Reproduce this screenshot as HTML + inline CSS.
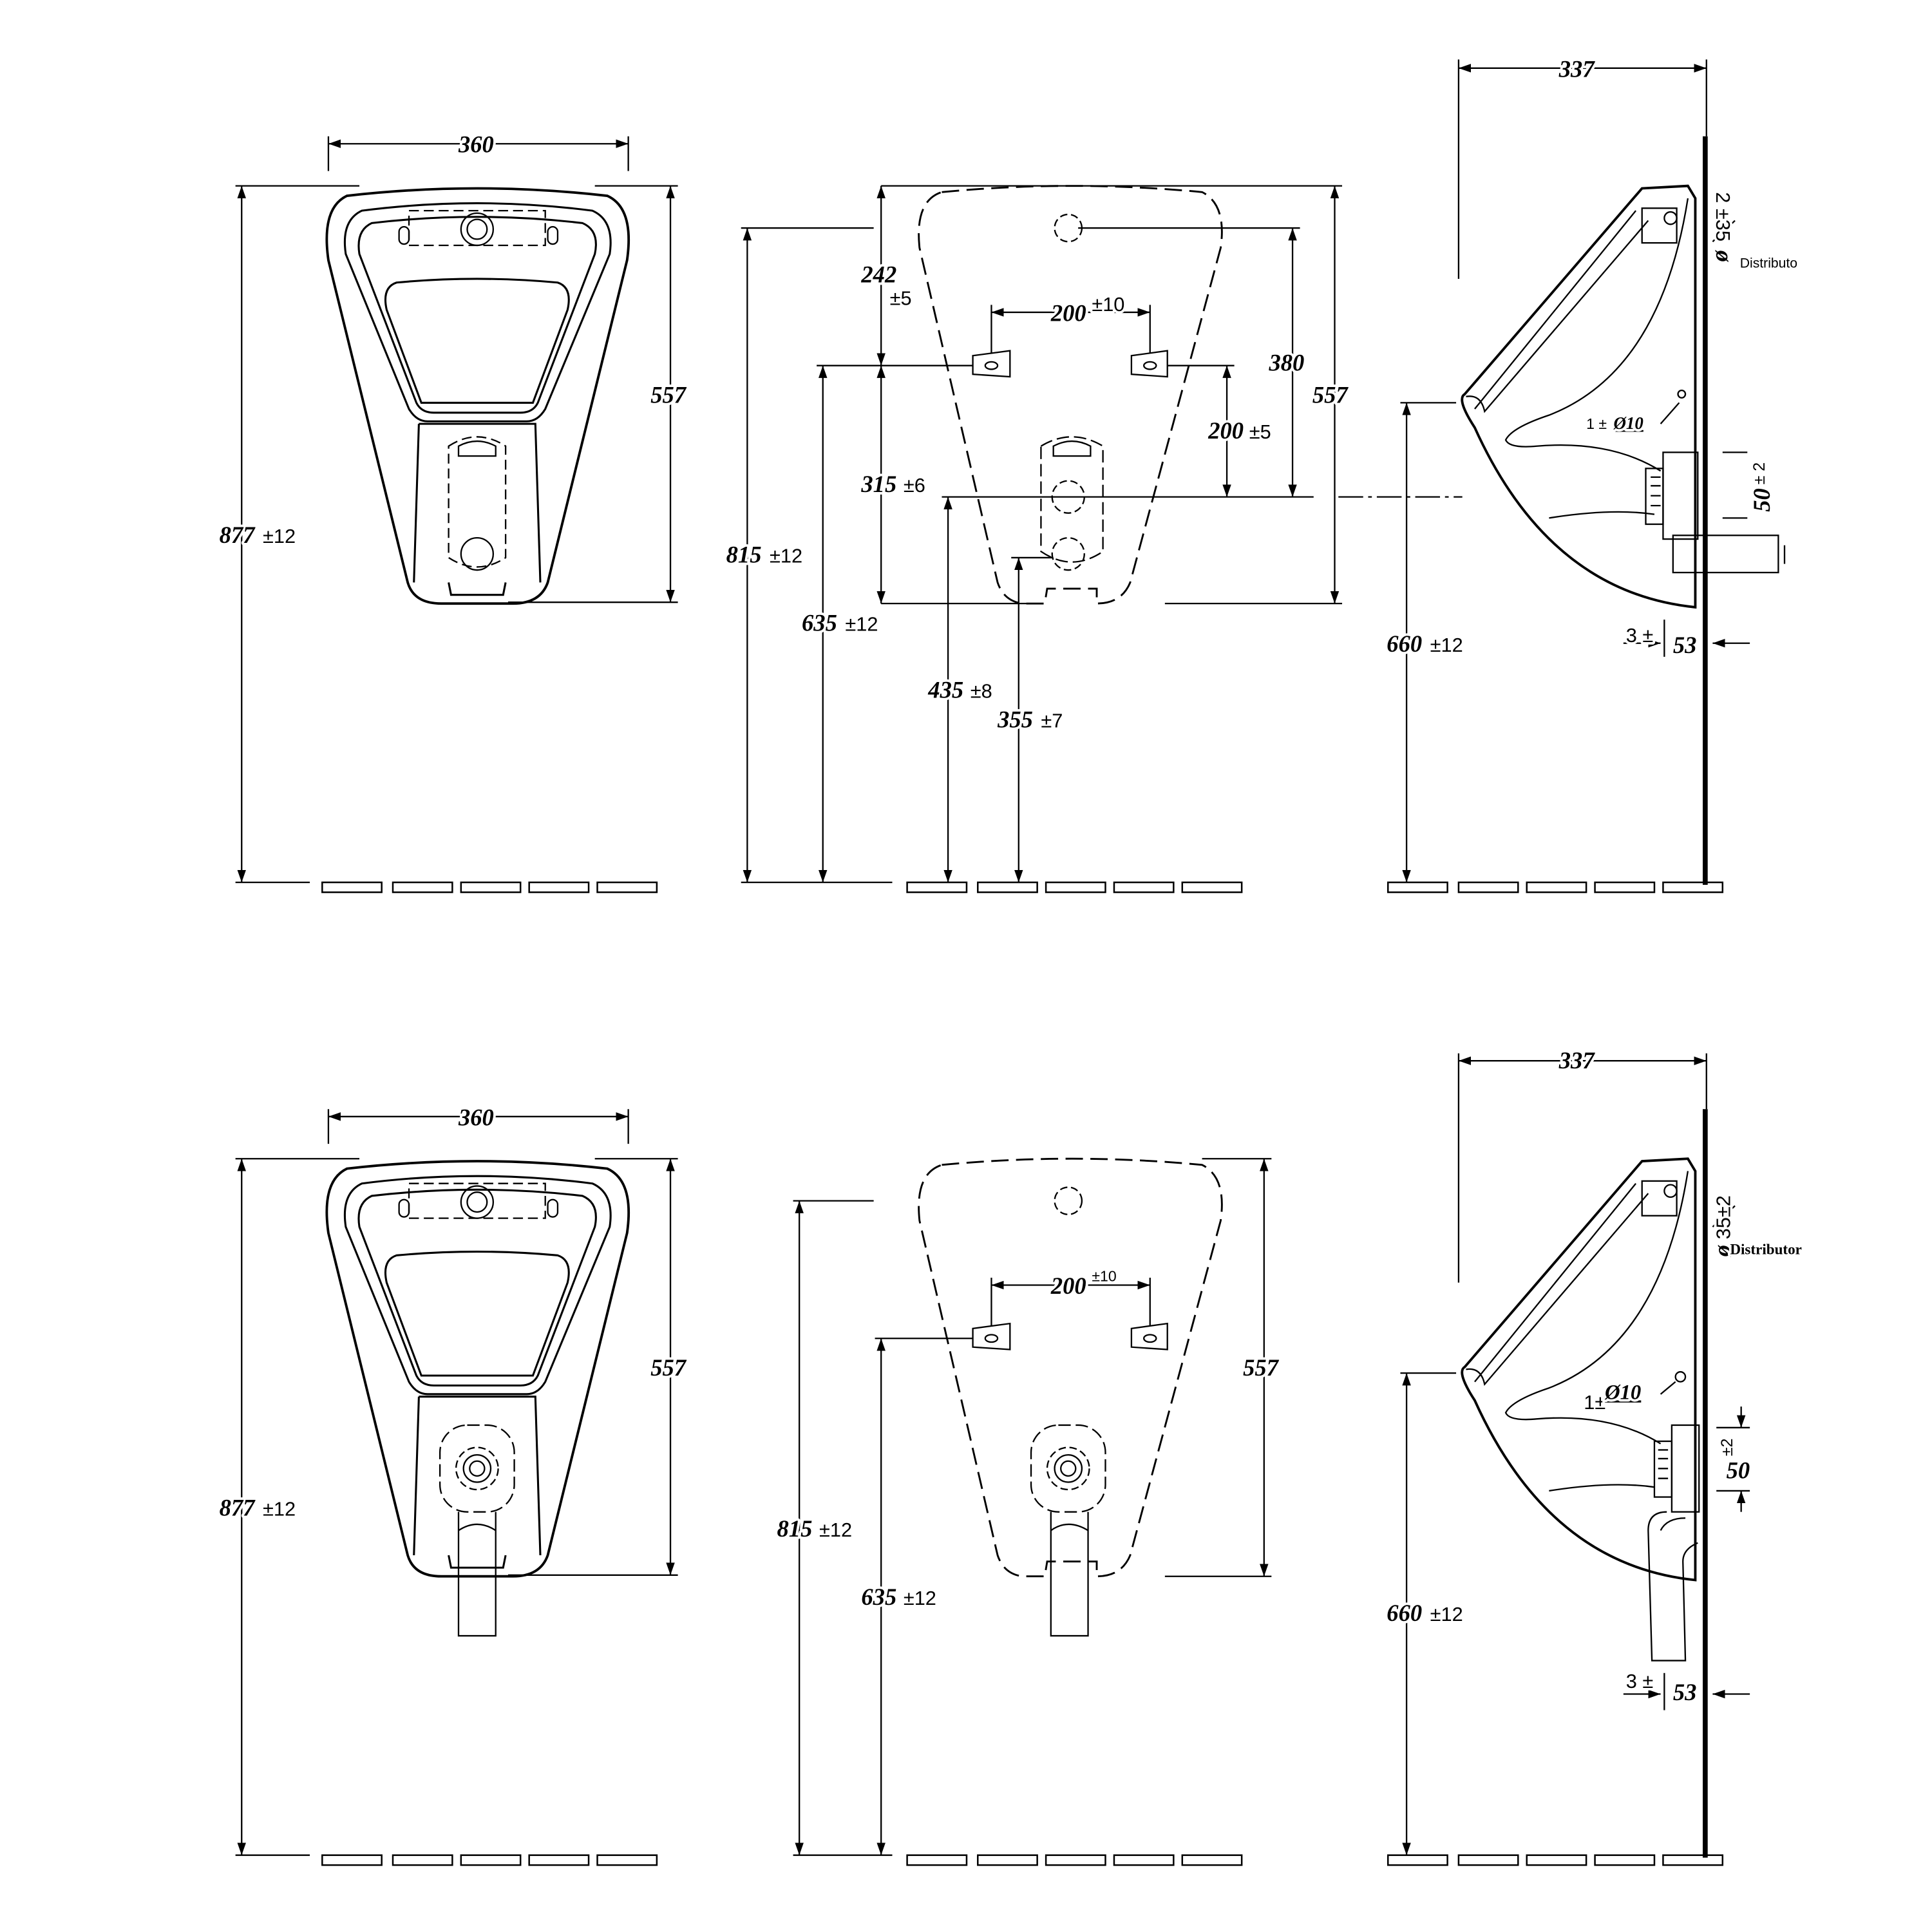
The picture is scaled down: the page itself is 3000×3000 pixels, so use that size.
<!DOCTYPE html>
<html><head><meta charset="utf-8"><style>
html,body{margin:0;padding:0;background:#fff;}
svg{display:block;}
text{paint-order:stroke;stroke:#fff;stroke-width:4px;stroke-linejoin:round;fill:#000;}
.n{font-family:"Liberation Serif",serif;font-style:italic;font-weight:bold;font-size:19px;}
.s{font-family:"Liberation Sans",sans-serif;font-size:16px;}
.t{font-family:"Liberation Sans",sans-serif;font-size:11px;}
</style></head><body>
<svg width="3000" height="3000" viewBox="0 0 1559 1559" xmlns="http://www.w3.org/2000/svg">
<defs>
<marker id="a" viewBox="0 0 10 10" refX="10" refY="5" markerWidth="10" markerHeight="10" markerUnits="userSpaceOnUse" orient="auto-start-reverse"><path d="M0,1.5 L10,5 L0,8.5 Z" fill="#000"/></marker>
<g id="tiles" fill="none" stroke="#000" stroke-width="1.3">
<rect x="0" y="0" width="48" height="8"/><rect x="57" y="0" width="48" height="8"/><rect x="112" y="0" width="48" height="8"/><rect x="167" y="0" width="48" height="8"/><rect x="222" y="0" width="48" height="8"/>
</g>
<g id="front" fill="none" stroke="#000" stroke-width="1.6">
<path d="M280 158 Q385 146 490 158 Q512 168 506 210 L442 470 Q436 487 414 487 L356 487 Q334 487 329 470 L265 210 Q259 168 280 158 Z" stroke-width="2"/>
<path d="M292 170 Q385 158 478 170 Q496 178 492 205 L440 330 Q434 340 425 340 L345 340 Q336 340 330 330 L279 205 Q275 178 292 170 Z"/>
<path d="M300 180 Q385 170 470 180 Q484 186 480 205 L434 325 Q430 333 420 333 L350 333 Q340 333 336 325 L290 205 Q287 186 300 180 Z"/>
<path d="M320 228 Q385 222 450 228 Q462 232 458 250 L430 325 L340 325 L312 250 Q308 232 320 228 Z"/>
<path d="M338 342 L432 342 L436 470 M338 342 L334 470"/>
<path d="M362 470 L364 480 L406 480 L408 470"/>
</g>
</defs>

<!-- ============ TOP ROW ============ -->
<g fill="none" stroke="#000" stroke-width="1.2">
<use href="#front"/>
<path d="M330 170 L440 170 L440 198 L330 198 Z" stroke-dasharray="8,4"/>
<rect x="322" y="183" width="8" height="14" rx="4"/><rect x="442" y="183" width="8" height="14" rx="4"/>
<circle cx="385" cy="185" r="13"/><circle cx="385" cy="185" r="8"/>
<path d="M362 360 Q385 345 408 360 L408 450 Q385 465 362 450 Z" stroke-dasharray="8,4"/>
<path d="M370 360 Q385 352 400 360 L400 368 L370 368 Z"/>
<circle cx="385" cy="447" r="13"/>
<line x1="265" y1="110" x2="265" y2="138"/><line x1="507" y1="110" x2="507" y2="138"/>
<line x1="265" y1="116" x2="507" y2="116" marker-start="url(#a)" marker-end="url(#a)"/>
<line x1="190" y1="150" x2="290" y2="150"/><line x1="190" y1="712" x2="250" y2="712"/>
<line x1="195" y1="150" x2="195" y2="712" marker-start="url(#a)" marker-end="url(#a)"/>
<line x1="480" y1="150" x2="547" y2="150"/><line x1="410" y1="486" x2="547" y2="486"/>
<line x1="541" y1="150" x2="541" y2="486" marker-start="url(#a)" marker-end="url(#a)"/>

<path d="M760 155 Q865 145 970 155 Q990 165 985 200 L912 470 Q905 487 885 487 L885 475 L845 475 L843 487 L825 487 Q810 485 805 470 L742 200 Q738 162 760 155 Z" stroke-dasharray="14,6" stroke-width="1.5"/>
<circle cx="862" cy="184" r="11" stroke-dasharray="6,3"/>
<path d="M785 287 L815 283 L815 304 L785 302 Z M913 287 L942 283 L942 304 L913 302 Z"/>
<ellipse cx="800" cy="295" rx="5" ry="3"/><ellipse cx="928" cy="295" rx="5" ry="3"/>
<path d="M840 360 Q865 345 890 360 L890 445 Q865 462 840 445 Z" stroke-dasharray="10,4"/>
<path d="M850 360 Q865 352 880 360 L880 368 L850 368 Z"/>
<circle cx="862" cy="401" r="13" stroke-dasharray="6,3"/>
<circle cx="862" cy="447" r="13" stroke-dasharray="6,3"/>
<line x1="711" y1="150" x2="1083" y2="150"/>
<line x1="598" y1="184" x2="705" y2="184"/><line x1="870" y1="184" x2="1049" y2="184"/>
<line x1="659" y1="295" x2="785" y2="295"/><line x1="942" y1="295" x2="996" y2="295"/>
<line x1="760" y1="401" x2="1060" y2="401"/>
<line x1="1080" y1="401" x2="1180" y2="401" stroke-dasharray="20,4,3,4"/>
<line x1="711" y1="487" x2="840" y2="487"/><line x1="940" y1="487" x2="1083" y2="487"/>
<line x1="816" y1="450" x2="850" y2="450"/>
<line x1="603" y1="184" x2="603" y2="712" marker-start="url(#a)" marker-end="url(#a)"/>
<line x1="664" y1="295" x2="664" y2="712" marker-start="url(#a)" marker-end="url(#a)"/>
<line x1="711" y1="150" x2="711" y2="295" marker-start="url(#a)" marker-end="url(#a)"/>
<line x1="711" y1="295" x2="711" y2="487" marker-start="url(#a)" marker-end="url(#a)"/>
<line x1="765" y1="401" x2="765" y2="712" marker-start="url(#a)" marker-end="url(#a)"/>
<line x1="822" y1="450" x2="822" y2="712" marker-start="url(#a)" marker-end="url(#a)"/>
<line x1="1043" y1="184" x2="1043" y2="401" marker-start="url(#a)" marker-end="url(#a)"/>
<line x1="1077" y1="150" x2="1077" y2="487" marker-start="url(#a)" marker-end="url(#a)"/>
<line x1="990" y1="295" x2="990" y2="401" marker-start="url(#a)" marker-end="url(#a)"/>
<line x1="800" y1="252" x2="928" y2="252" marker-start="url(#a)" marker-end="url(#a)"/>
<line x1="800" y1="246" x2="800" y2="285"/><line x1="928" y1="246" x2="928" y2="285"/>
<line x1="598" y1="712" x2="720" y2="712"/>

<line x1="1177" y1="48" x2="1177" y2="225"/><line x1="1377" y1="48" x2="1377" y2="110"/>
<line x1="1177" y1="55" x2="1377" y2="55" marker-start="url(#a)" marker-end="url(#a)"/>
<path d="M1325 152 L1362 150 L1368 160 L1368 490 Q1250 478 1190 345 Q1175 322 1182 318 L1325 152 Z" stroke-width="2"/>
<path d="M1183 320 Q1195 318 1198 332 L1330 178"/>
<path d="M1190 330 L1320 170"/>
<path d="M1362 160 Q1340 300 1250 335 Q1220 345 1215 355 Q1218 362 1240 360 Q1300 355 1340 380"/>
<path d="M1250 418 Q1300 410 1335 415"/>
<rect x="1325" y="168" width="28" height="28"/><circle cx="1348" cy="176" r="5"/>
<rect x="1328" y="378" width="14" height="45"/><rect x="1342" y="365" width="28" height="70"/>
<path d="M1332 385 L1340 385 M1332 392 L1340 392 M1332 400 L1340 400 M1332 408 L1340 408"/>
<rect x="1350" y="432" width="85" height="30"/><line x1="1440" y1="440" x2="1440" y2="455"/>
<line x1="1340" y1="342" x2="1355" y2="325"/><circle cx="1357" cy="318" r="3"/>
<line x1="1130" y1="325" x2="1175" y2="325"/>
<line x1="1135" y1="325" x2="1135" y2="712" marker-start="url(#a)" marker-end="url(#a)"/>
<line x1="1390" y1="365" x2="1410" y2="365"/><line x1="1390" y1="418" x2="1410" y2="418"/>
<line x1="1310" y1="519" x2="1340" y2="519" marker-end="url(#a)"/>
<line x1="1412" y1="519" x2="1382" y2="519" marker-end="url(#a)"/>
<line x1="1343" y1="500" x2="1343" y2="530"/>
<line x1="1382" y1="195" x2="1400" y2="178"/>
</g>
<rect x="1374" y="110" width="4" height="604" fill="#000"/>
<use href="#tiles" x="260" y="712"/><use href="#tiles" x="732" y="712"/><use href="#tiles" x="1120" y="712"/>

<g>
<text class="n" x="370" y="123">360</text>
<text class="n" x="525" y="325">557</text>
<text class="n" x="177" y="438">877</text><text class="s" x="212" y="438">±12</text>
<text class="n" x="695" y="228">242</text><text class="s" x="718" y="246">±5</text>
<text class="n" x="848" y="259">200</text><text class="s" x="881" y="251">±10</text>
<text class="n" x="1024" y="299">380</text>
<text class="n" x="1059" y="325">557</text>
<text class="n" x="975" y="354">200</text><text class="s" x="1008" y="354">±5</text>
<text class="n" x="695" y="397">315</text><text class="s" x="729" y="397">±6</text>
<text class="n" x="586" y="454">815</text><text class="s" x="621" y="454">±12</text>
<text class="n" x="647" y="509">635</text><text class="s" x="682" y="509">±12</text>
<text class="n" x="749" y="563">435</text><text class="s" x="783" y="563">±8</text>
<text class="n" x="805" y="587">355</text><text class="s" x="840" y="587">±7</text>
<text class="n" x="1258" y="62">337</text>
<text class="n" x="1119" y="526">660</text><text class="s" x="1154" y="526">±12</text>
<text class="s" x="1280" y="346" style="font-size:12px">1 ±</text><text class="n" x="1302" y="346" style="font-size:14px;text-decoration:underline">Ø10</text>
<text class="s" x="1312" y="518">3 ±</text>
<text class="n" x="1350" y="527">53</text>
<text class="t" x="1404" y="216">Distributo</text>
<g transform="translate(1385,155) rotate(90)"><text class="s" x="0" y="0">2 ±35</text><text class="n" x="47" y="0">ø</text></g>
<g transform="translate(1428,413) rotate(-90)"><text class="n" x="0" y="0">50</text><text class="s" x="22" y="-4" style="font-size:13px">± 2</text></g>
</g>

<!-- ============ BOTTOM ROW ============ -->
<g fill="none" stroke="#000" stroke-width="1.2">
<g transform="translate(0,785)">
<use href="#front"/>
<path d="M330 170 L440 170 L440 198 L330 198 Z" stroke-dasharray="8,4"/>
<rect x="322" y="183" width="8" height="14" rx="4"/><rect x="442" y="183" width="8" height="14" rx="4"/>
<circle cx="385" cy="185" r="13"/><circle cx="385" cy="185" r="8"/>
<rect x="355" y="365" width="60" height="70" rx="22" stroke-dasharray="10,4"/>
<circle cx="385" cy="400" r="17" stroke-dasharray="6,3"/><circle cx="385" cy="400" r="11"/><circle cx="385" cy="400" r="6"/>
<path d="M370 435 L370 535 L400 535 L400 435"/><path d="M370 450 Q385 440 400 450"/>
<line x1="265" y1="110" x2="265" y2="138"/><line x1="507" y1="110" x2="507" y2="138"/>
<line x1="265" y1="116" x2="507" y2="116" marker-start="url(#a)" marker-end="url(#a)"/>
<line x1="190" y1="150" x2="290" y2="150"/><line x1="190" y1="712" x2="250" y2="712"/>
<line x1="195" y1="150" x2="195" y2="712" marker-start="url(#a)" marker-end="url(#a)"/>
<line x1="480" y1="150" x2="547" y2="150"/><line x1="410" y1="486" x2="547" y2="486"/>
<line x1="541" y1="150" x2="541" y2="486" marker-start="url(#a)" marker-end="url(#a)"/>

<path d="M760 155 Q865 145 970 155 Q990 165 985 200 L912 470 Q905 487 885 487 L885 475 L845 475 L843 487 L825 487 Q810 485 805 470 L742 200 Q738 162 760 155 Z" stroke-dasharray="14,6" stroke-width="1.5"/>
<circle cx="862" cy="184" r="11" stroke-dasharray="6,3"/>
<path d="M785 287 L815 283 L815 304 L785 302 Z M913 287 L942 283 L942 304 L913 302 Z"/>
<ellipse cx="800" cy="295" rx="5" ry="3"/><ellipse cx="928" cy="295" rx="5" ry="3"/>
<rect x="832" y="365" width="60" height="70" rx="22" stroke-dasharray="10,4"/>
<circle cx="862" cy="400" r="17" stroke-dasharray="6,3"/><circle cx="862" cy="400" r="11"/><circle cx="862" cy="400" r="6"/>
<path d="M848 435 L848 535 L878 535 L878 435"/><path d="M848 450 Q862 440 878 450"/>
<line x1="800" y1="252" x2="928" y2="252" marker-start="url(#a)" marker-end="url(#a)"/>
<line x1="800" y1="246" x2="800" y2="285"/><line x1="928" y1="246" x2="928" y2="285"/>
<line x1="970" y1="150" x2="1026" y2="150"/><line x1="940" y1="487" x2="1026" y2="487"/>
<line x1="1020" y1="150" x2="1020" y2="487" marker-start="url(#a)" marker-end="url(#a)"/>
<line x1="640" y1="184" x2="705" y2="184"/>
<line x1="706" y1="295" x2="785" y2="295"/>
<line x1="645" y1="184" x2="645" y2="712" marker-start="url(#a)" marker-end="url(#a)"/>
<line x1="711" y1="295" x2="711" y2="712" marker-start="url(#a)" marker-end="url(#a)"/>
<line x1="640" y1="712" x2="720" y2="712"/>

<line x1="1177" y1="65" x2="1177" y2="250"/><line x1="1377" y1="65" x2="1377" y2="110"/>
<line x1="1177" y1="71" x2="1377" y2="71" marker-start="url(#a)" marker-end="url(#a)"/>
<path d="M1325 152 L1362 150 L1368 160 L1368 490 Q1250 478 1190 345 Q1175 322 1182 318 L1325 152 Z" stroke-width="2"/>
<path d="M1183 320 Q1195 318 1198 332 L1330 178"/>
<path d="M1190 330 L1320 170"/>
<path d="M1362 160 Q1340 300 1250 335 Q1220 345 1215 355 Q1218 362 1240 360 Q1300 355 1340 380"/>
<path d="M1250 418 Q1300 410 1335 415"/>
<rect x="1325" y="168" width="28" height="28"/><circle cx="1348" cy="176" r="5"/>
<rect x="1335" y="378" width="14" height="45"/><rect x="1349" y="365" width="22" height="70"/>
<path d="M1338 385 L1346 385 M1338 392 L1346 392 M1338 400 L1346 400 M1338 408 L1346 408"/>
<path d="M1345 435 Q1330 435 1330 450 L1333 555 L1360 555 L1358 475 Q1358 465 1370 460"/>
<path d="M1340 450 Q1345 440 1360 440"/>
<line x1="1340" y1="340" x2="1352" y2="330"/><circle cx="1356" cy="326" r="4"/>
<line x1="1130" y1="323" x2="1175" y2="323"/>
<line x1="1135" y1="323" x2="1135" y2="712" marker-start="url(#a)" marker-end="url(#a)"/>
<line x1="1385" y1="367" x2="1412" y2="367"/><line x1="1385" y1="418" x2="1412" y2="418"/>
<line x1="1405" y1="350" x2="1405" y2="367" marker-end="url(#a)"/>
<line x1="1405" y1="435" x2="1405" y2="418" marker-end="url(#a)"/>
<line x1="1310" y1="582" x2="1340" y2="582" marker-end="url(#a)"/>
<line x1="1412" y1="582" x2="1382" y2="582" marker-end="url(#a)"/>
<line x1="1343" y1="565" x2="1343" y2="595"/>
<line x1="1382" y1="205" x2="1400" y2="188"/>
</g>
</g>
<rect x="1374" y="895" width="4" height="604" fill="#000"/>
<use href="#tiles" x="260" y="1497"/><use href="#tiles" x="732" y="1497"/><use href="#tiles" x="1120" y="1497"/>

<g>
<text class="n" x="370" y="908">360</text>
<text class="n" x="525" y="1110">557</text>
<text class="n" x="177" y="1223">877</text><text class="s" x="212" y="1223">±12</text>
<text class="n" x="848" y="1044">200</text><text class="s" x="881" y="1034" style="font-size:12px">±10</text>
<text class="n" x="1003" y="1110">557</text>
<text class="n" x="627" y="1240">815</text><text class="s" x="661" y="1240">±12</text>
<text class="n" x="695" y="1295">635</text><text class="s" x="729" y="1295">±12</text>
<text class="n" x="1258" y="862">337</text>
<text class="n" x="1119" y="1308">660</text><text class="s" x="1154" y="1308">±12</text>
<text class="s" x="1278" y="1137">1±</text><text class="n" x="1295" y="1129" style="font-size:17px;text-decoration:underline">Ø10</text>
<text class="s" x="1312" y="1362">3 ±</text>
<text class="n" x="1350" y="1372">53</text>
<text class="n" x="1393" y="1193">50</text>
<g transform="translate(1398,1175) rotate(-90)"><text class="s" x="0" y="0" style="font-size:13px">±2</text></g>
<g transform="translate(1396,1014) rotate(-90)"><text class="n" x="0" y="0">ø</text><text class="s" x="14" y="0">35±2</text></g>
<text class="n" x="1396" y="1012" style="font-size:12px;font-style:normal">Distributor</text>
</g>
</svg>
</body></html>
